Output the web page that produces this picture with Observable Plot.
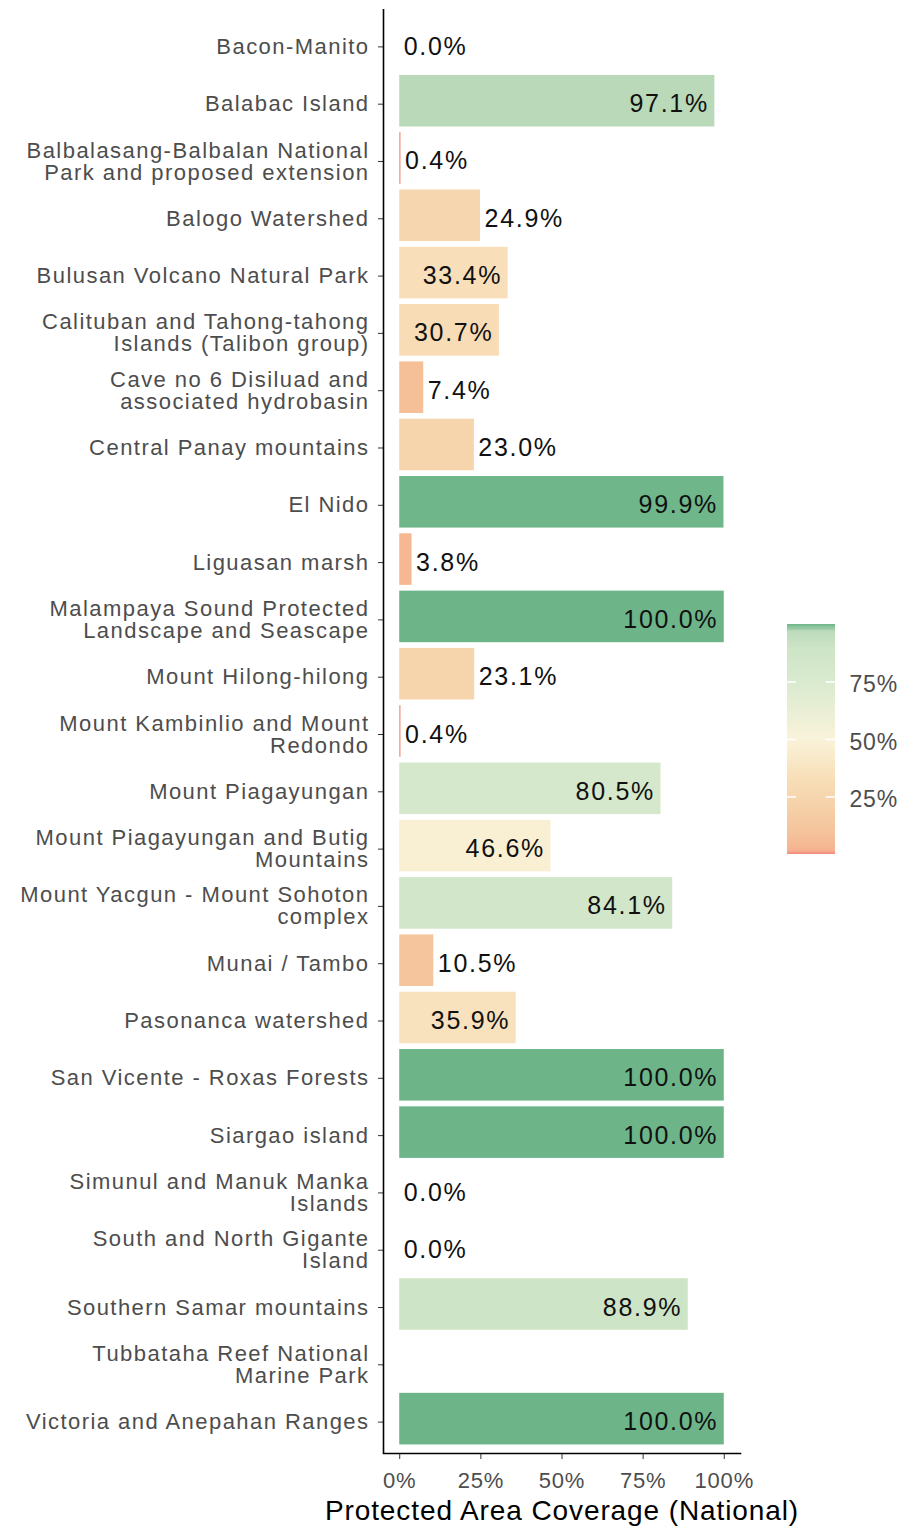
<!DOCTYPE html>
<html>
<head>
<meta charset="utf-8">
<script src="https://cdn.jsdelivr.net/npm/d3@7"></script>
<script src="https://cdn.jsdelivr.net/npm/@observablehq/plot@0.6"></script>
<style>
  html, body { margin: 0; padding: 0; background: #fff; }
  #wrap { position: relative; width: 904px; height: 1530px; font-family: "Liberation Sans", Arial, sans-serif; }
  #legend { position: absolute; left: 787px; top: 600px; }
  [aria-label="y-axis tick label"] text { letter-spacing: 1.45px; }
  [aria-label="x-axis tick label"] text { letter-spacing: 0.8px; }
  .vlab text { letter-spacing: 1.7px; }
  .title text { letter-spacing: 0.9px; }
  #legend [aria-label="y-axis tick label"] text { letter-spacing: 0.8px; }
</style>
</head>
<body>
<div id="wrap"></div>
<script>
const names = [
  "Bacon-Manito",
  "Balabac Island",
  "Balbalasang-Balbalan National\nPark and proposed extension",
  "Balogo Watershed",
  "Bulusan Volcano Natural Park",
  "Calituban and Tahong-tahong\nIslands (Talibon group)",
  "Cave no 6 Disiluad and\nassociated hydrobasin",
  "Central Panay mountains",
  "El Nido",
  "Liguasan marsh",
  "Malampaya Sound Protected\nLandscape and Seascape",
  "Mount Hilong-hilong",
  "Mount Kambinlio and Mount\nRedondo",
  "Mount Piagayungan",
  "Mount Piagayungan and Butig\nMountains",
  "Mount Yacgun - Mount Sohoton\ncomplex",
  "Munai / Tambo",
  "Pasonanca watershed",
  "San Vicente - Roxas Forests",
  "Siargao island",
  "Simunul and Manuk Manka\nIslands",
  "South and North Gigante\nIsland",
  "Southern Samar mountains",
  "Tubbataha Reef National\nMarine Park",
  "Victoria and Anepahan Ranges"
];
const coverage = [0.0, 97.1, 0.4, 24.9, 33.4, 30.7, 7.4, 23.0, 99.9, 3.8, 100.0, 23.1, 0.4, 80.5, 46.6, 84.1, 10.5, 35.9, 100.0, 100.0, 0.0, 0.0, 88.9, null, 100.0];
const xTicks = [0, 25, 50, 75, 100];
const legendTicks = [25, 50, 75];
const colorStops = [0, 2, 10, 25, 35, 50, 75, 90, 97, 98.5, 100];
const colorRange = ["#f28a7e", "#f5b591", "#f5c49c", "#f6d6ae", "#f8e1bb", "#f9f3da", "#d9eacf", "#cde4c5", "#bcdbbb", "#8cc49d", "#6db589"];
const titleText = "Protected Area Coverage (National)";

const data = names.map((name, i) => ({name, value: coverage[i]}));
const valid = data.filter(d => d.value != null);
const colorScale = {type: "linear", domain: colorStops, range: colorRange, interpolate: "rgb"};
const fmt = v => v.toFixed(1) + "%";
const FONT = "Liberation Sans, Arial, sans-serif";

const chart = Plot.plot({
  width: 904,
  height: 1530,
  marginLeft: 383,
  marginRight: 164,
  marginTop: 9,
  marginBottom: 77,
  style: {fontFamily: FONT, background: "white", overflow: "visible"},
  x: {domain: [-5, 105]},
  y: {domain: names, paddingInner: 0.1, paddingOuter: 0.15, align: 0.5, round: false},
  color: colorScale,
  marks: [
    Plot.barX(valid, {x1: 0, x2: "value", y: "name", fill: "value"}),
    Plot.text(valid.filter(d => d.value >= 30), {x: "value", y: "name", text: d => fmt(d.value), textAnchor: "end", dx: -6, dy: 3, fontSize: 25, fill: "#111", className: "vlab"}),
    Plot.text(valid.filter(d => d.value < 30), {x: "value", y: "name", text: d => fmt(d.value), textAnchor: "start", dx: 4, dy: 3, fontSize: 25, fill: "#111", className: "vlab"}),
    Plot.axisY({tickSize: 5, tickPadding: 9, dy: 3, fontSize: 22, lineHeight: 1.0, fill: "#4d4d4d", stroke: "#333", label: null, tickFormat: d => d}),
    Plot.axisX({ticks: xTicks, tickSize: 6, tickPadding: 13, fontSize: 22, fill: "#4d4d4d", stroke: "#333", label: null, tickFormat: d => d + "%"}),
    Plot.ruleX([-5], {stroke: "black", strokeWidth: 1.6}),
    Plot.frame({anchor: "bottom", stroke: "black", strokeWidth: 1.6}),
    Plot.text([titleText], {frameAnchor: "bottom", dy: 66, fontSize: 28, fill: "black", className: "title"})
  ]
});
document.getElementById("wrap").appendChild(chart);

const ramp = d3.range(0, 100, 0.5);
const legend = Plot.plot({
  width: 117,
  height: 280,
  marginLeft: 0,
  marginRight: 69,
  marginTop: 24,
  marginBottom: 26,
  style: {fontFamily: FONT, background: "transparent", overflow: "visible"},
  x: {domain: [0, 1], axis: null},
  y: {domain: [0, 100]},
  color: colorScale,
  marks: [
    Plot.rect(ramp, {x1: 0, x2: 1, y1: d => d, y2: d => d + 0.5, fill: d => d + 0.25, shapeRendering: "crispEdges"}),
    Plot.ruleY(legendTicks, {x1: 0, x2: 0.19, stroke: "white", strokeWidth: 1.5}),
    Plot.ruleY(legendTicks, {x1: 0.81, x2: 1, stroke: "white", strokeWidth: 1.5}),
    Plot.axisY({anchor: "right", ticks: legendTicks, tickSize: 0, tickPadding: 14, dy: 3, fontSize: 23, fill: "#4d4d4d", label: null, tickFormat: d => d + "%"})
  ]
});
const lg = document.createElement("div");
lg.id = "legend";
lg.appendChild(legend);
document.getElementById("wrap").appendChild(lg);
</script>
</body>
</html>
